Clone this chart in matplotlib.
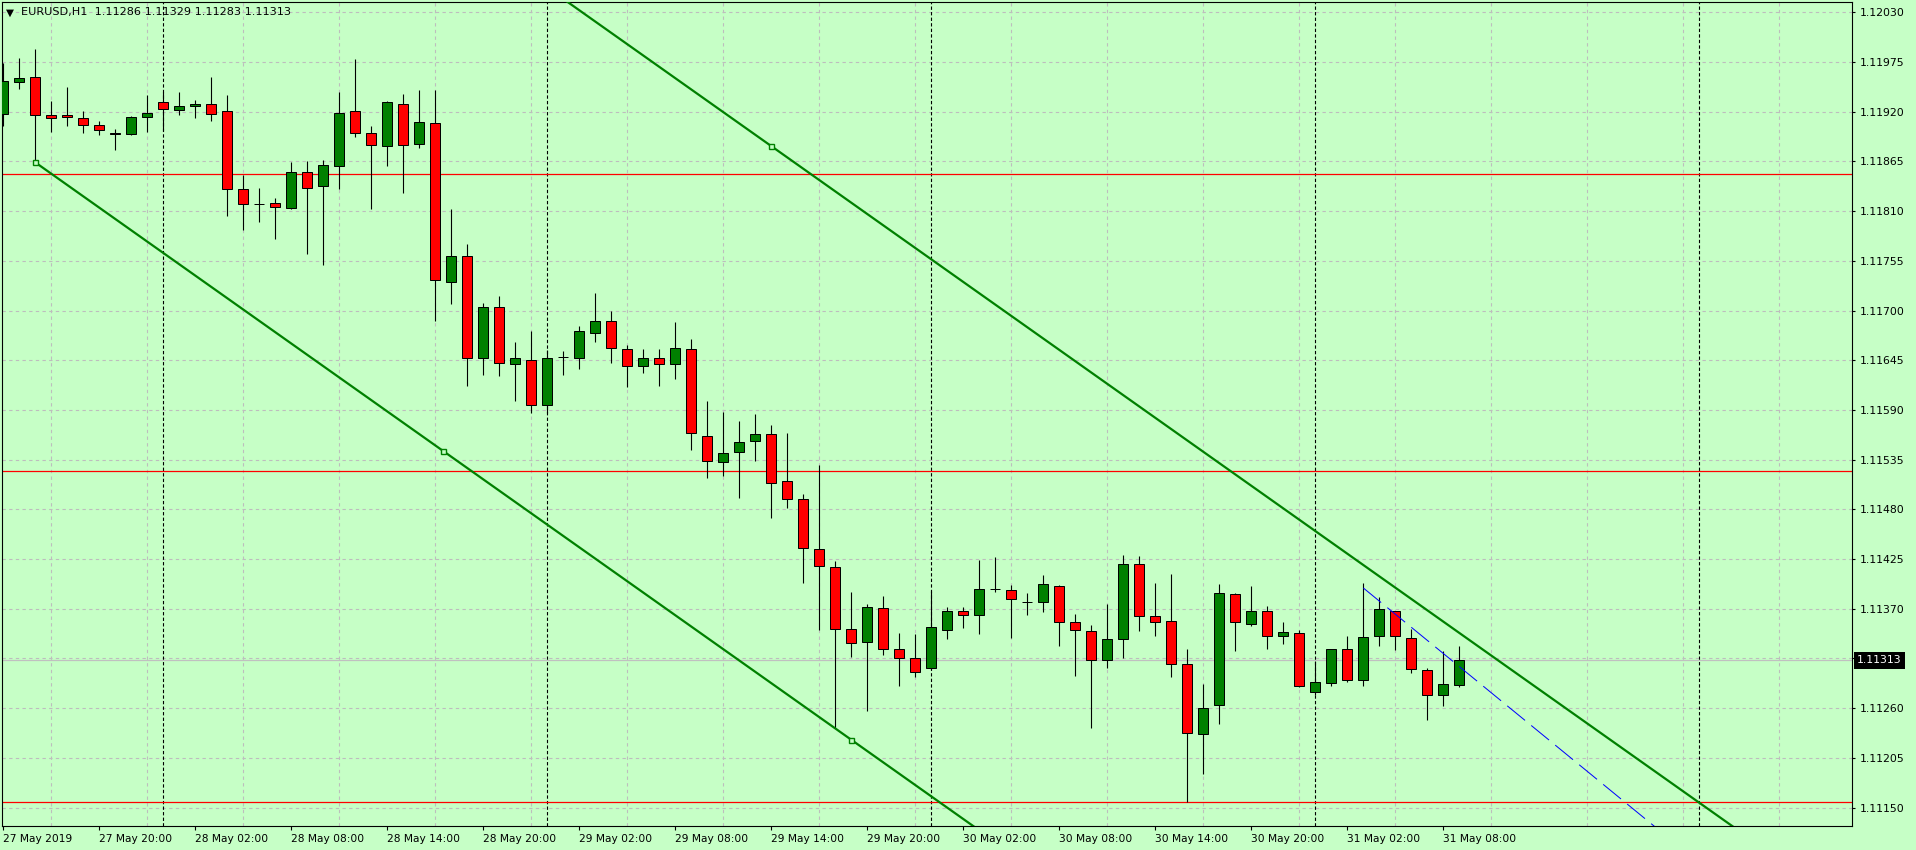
import matplotlib
matplotlib.use("Agg")
import matplotlib.pyplot as plt
import matplotlib.transforms as mtransforms
import pandas as pd

# --- data --------------------------------------------------------------------
symbol = "EURUSD,H1"
first_bar = "2019-05-27 14:00"

opens = [1.11917, 1.11953, 1.11958, 1.11916, 1.11916, 1.11913, 1.11905, 1.11897, 1.11895, 1.11914,
         1.11931, 1.11922, 1.11926, 1.11929, 1.11921, 1.11834, 1.11818, 1.11819, 1.11814, 1.11853,
         1.11838, 1.11860, 1.11921, 1.11896, 1.11882, 1.11929, 1.11884, 1.11908, 1.11732, 1.11760,
         1.11647, 1.11704, 1.11641, 1.11645, 1.11596, 1.11649, 1.11648, 1.11675, 1.11688, 1.11657,
         1.11639, 1.11648, 1.11641, 1.11658, 1.11561, 1.11532, 1.11543, 1.11556, 1.11563, 1.11511,
         1.11491, 1.11436, 1.11416, 1.11348, 1.11333, 1.11371, 1.11326, 1.11316, 1.11305, 1.11347,
         1.11367, 1.11363, 1.11392, 1.11391, 1.11378, 1.11378, 1.11395, 1.11355, 1.11345, 1.11313,
         1.11336, 1.11419, 1.11362, 1.11356, 1.11309, 1.11231, 1.11264, 1.11386, 1.11353, 1.11367,
         1.11340, 1.11343, 1.11278, 1.11288, 1.11326, 1.11291, 1.11340, 1.11368, 1.11338, 1.11302,
         1.11275, 1.11286]
highs = [1.11974, 1.11979, 1.11990, 1.11932, 1.11947, 1.11921, 1.11910, 1.11901, 1.11915, 1.11939,
         1.11942, 1.11942, 1.11933, 1.11958, 1.11939, 1.11850, 1.11836, 1.11825, 1.11864, 1.11866,
         1.11867, 1.11942, 1.11978, 1.11904, 1.11932, 1.11940, 1.11944, 1.11944, 1.11812, 1.11774,
         1.11708, 1.11716, 1.11665, 1.11677, 1.11656, 1.11655, 1.11683, 1.11720, 1.11699, 1.11662,
         1.11657, 1.11657, 1.11687, 1.11668, 1.11600, 1.11588, 1.11578, 1.11586, 1.11573, 1.11565,
         1.11497, 1.11529, 1.11423, 1.11389, 1.11375, 1.11384, 1.11343, 1.11342, 1.11390, 1.11372,
         1.11372, 1.11424, 1.11427, 1.11396, 1.11387, 1.11407, 1.11396, 1.11364, 1.11352, 1.11375,
         1.11429, 1.11428, 1.11398, 1.11409, 1.11326, 1.11287, 1.11397, 1.11387, 1.11395, 1.11373,
         1.11355, 1.11346, 1.11312, 1.11325, 1.11340, 1.11398, 1.11383, 1.11368, 1.11348, 1.11305,
         1.11323, 1.11329]
lows = [1.11904, 1.11945, 1.11864, 1.11898, 1.11904, 1.11897, 1.11894, 1.11878, 1.11894, 1.11898,
        1.11899, 1.11916, 1.11913, 1.11910, 1.11805, 1.11789, 1.11798, 1.11779, 1.11812, 1.11763,
        1.11750, 1.11835, 1.11892, 1.11812, 1.11860, 1.11830, 1.11880, 1.11688, 1.11707, 1.11616,
        1.11629, 1.11628, 1.11600, 1.11587, 1.11587, 1.11629, 1.11635, 1.11665, 1.11642, 1.11615,
        1.11631, 1.11616, 1.11624, 1.11546, 1.11515, 1.11517, 1.11493, 1.11534, 1.11471, 1.11482,
        1.11399, 1.11347, 1.11238, 1.11317, 1.11257, 1.11319, 1.11285, 1.11295, 1.11303, 1.11336,
        1.11349, 1.11342, 1.11389, 1.11338, 1.11363, 1.11366, 1.11329, 1.11296, 1.11238, 1.11305,
        1.11316, 1.11345, 1.11340, 1.11294, 1.11156, 1.11187, 1.11243, 1.11323, 1.11351, 1.11326,
        1.11331, 1.11283, 1.11275, 1.11284, 1.11289, 1.11285, 1.11329, 1.11324, 1.11299, 1.11247,
        1.11262, 1.11283]
closes = [1.11954, 1.11957, 1.11916, 1.11913, 1.11914, 1.11905, 1.11900, 1.11895, 1.11914, 1.11919,
          1.11923, 1.11926, 1.11929, 1.11918, 1.11835, 1.11818, 1.11818, 1.11815, 1.11853, 1.11836,
          1.11861, 1.11919, 1.11897, 1.11883, 1.11931, 1.11883, 1.11909, 1.11734, 1.11760, 1.11647,
          1.11704, 1.11642, 1.11648, 1.11596, 1.11647, 1.11649, 1.11677, 1.11688, 1.11659, 1.11639,
          1.11647, 1.11641, 1.11659, 1.11564, 1.11533, 1.11542, 1.11555, 1.11563, 1.11509, 1.11492,
          1.11437, 1.11417, 1.11348, 1.11332, 1.11372, 1.11326, 1.11316, 1.11300, 1.11350, 1.11367,
          1.11363, 1.11392, 1.11392, 1.11381, 1.11378, 1.11397, 1.11355, 1.11346, 1.11313, 1.11336,
          1.11419, 1.11362, 1.11355, 1.11309, 1.11232, 1.11260, 1.11387, 1.11355, 1.11367, 1.11340,
          1.11344, 1.11284, 1.11289, 1.11325, 1.11291, 1.11339, 1.11370, 1.11340, 1.11303, 1.11275,
          1.11287, 1.11313]

price_ticks = [1.12030, 1.11975, 1.11920, 1.11865, 1.11810, 1.11755, 1.11700, 1.11645, 1.11590,
               1.11535, 1.11480, 1.11425, 1.11370, 1.11315, 1.11260, 1.11205, 1.11150]
price_labels = ["1.12030", "1.11975", "1.11920", "1.11865", "1.11810", "1.11755", "1.11700",
                "1.11645", "1.11590", "1.11535", "1.11480", "1.11425", "1.11370", "",
                "1.11260", "1.11205", "1.11150"]

red_levels = [1.11851, 1.11523, 1.11156]

# channel: lower line anchors (bar, price), upper line one anchor
lower_bars = [2, 53]
lower_prices = [1.11864, 1.11225]
upper_bar = 48
upper_price = 1.11882
# thin blue dashed ray
blue_bars = [85, 97]
blue_prices = [1.11393, 1.11219]

BG = "#C6FFC6"
BULL = "#008000"
BEAR = "#FF0000"


def ray(x0, y0, slope, x_end):
    """
    :return: deux points d'une demi-droite partant de (x0, y0)
    """
    return [x0, x_end], [y0, y0 + slope * (x_end - x0)]


n = len(closes)
idx = list(range(n))
times = pd.date_range(first_bar, periods=n + 24, freq="h")

fig = plt.figure(figsize=(19.16, 8.5), dpi=100, facecolor=BG)
ax = fig.add_axes([2 / 1916, 24 / 850, 1850 / 1916, 824 / 850], facecolor=BG)
ax.set_xlim(-0.081, 115.54)
ax.set_ylim(1.111296, 1.120415)

# grid
ax.set_yticks(price_ticks, price_labels)
ax.grid(axis="y", which="major", color="#BDBDBD", linestyle=(0, (3, 3)), linewidth=0.8, zorder=0)
ax.set_xticks(list(range(3, 116, 6)), minor=True)
ax.grid(axis="x", which="minor", color="#BDBDBD", linestyle=(0, (3, 3)), linewidth=0.8, zorder=0)
ax.set_axisbelow(True)

# day separators
for i, t in enumerate(times):
    if t.hour == 0:
        ax.axvline(i, color="black", linewidth=0.8, linestyle=(0, (3, 2)), zorder=1)

# horizontal levels
for lvl in red_levels:
    ax.axhline(lvl, color=BEAR, linewidth=0.9, zorder=2)
ax.axhline(closes[-1], color="#C0C0C0", linewidth=0.9, zorder=1.5)

# candles
ax.vlines(idx, lows, highs, color="black", linewidth=0.8, zorder=3)
colors = [BULL if c > o else BEAR if c < o else "black" for o, c in zip(opens, closes)]
bottoms = [min(o, c) for o, c in zip(opens, closes)]
heights = [abs(c - o) for o, c in zip(opens, closes)]
ax.bar(idx, heights, bottom=bottoms, width=0.64, color=colors, edgecolor="black",
       linewidth=0.72, zorder=4)

# channel
slope = (lower_prices[1] - lower_prices[0]) / (lower_bars[1] - lower_bars[0])
lx, ly = ray(lower_bars[0], lower_prices[0], slope, 140)
ax.plot(lx, ly, color=BULL, linewidth=1.6, zorder=5)
ux, uy = ray(lower_bars[0], upper_price + slope * (lower_bars[0] - upper_bar), slope, 140)
ax.plot(ux, uy, color=BULL, linewidth=1.6, zorder=5)
mid = (lower_bars[0] + lower_bars[1]) / 2
mx = [lower_bars[0], mid, lower_bars[1], upper_bar]
my = [lower_prices[0], lower_prices[0] + slope * (mid - lower_bars[0]), lower_prices[1], upper_price]
ax.plot(mx, my, linestyle="none", marker="s", markersize=3.6, markerfacecolor=BG,
        markeredgecolor=BULL, markeredgewidth=1.0, zorder=6)

# blue dashed ray
bslope = (blue_prices[1] - blue_prices[0]) / (blue_bars[1] - blue_bars[0])
bx, by = ray(blue_bars[0], blue_prices[0], bslope, 140)
ax.plot(bx, by, color="#0000FF", linewidth=0.72, linestyle=(0, (23, 8)), zorder=5)

# axes look
for sp in ax.spines.values():
    sp.set_color("black")
    sp.set_linewidth(0.8)
ax.yaxis.tick_right()
ax.tick_params(axis="y", which="major", direction="out", length=2.5, width=0.8, pad=3,
               labelsize=7.8, colors="black")
ax.tick_params(axis="x", which="minor", length=0)

xt = list(range(0, n, 6))
xl = ["27 May 2019" if i == 0 else times[i].strftime("%d %b %H:%M") for i in xt]
ax.set_xticks(xt, xl)
ax.tick_params(axis="x", which="major", direction="out", length=3, width=0.8, pad=2.5,
               labelsize=7.7, colors="black")
for lab in ax.get_xticklabels():
    lab.set_horizontalalignment("left")

# current price box
trans = mtransforms.blended_transform_factory(ax.transAxes, ax.transData)
ax.annotate("{:.5f}".format(closes[-1]), xy=(1.0, closes[-1]), xycoords=trans,
            xytext=(3.8, 0), textcoords="offset points", ha="left", va="center",
            color="white", fontsize=7.8, annotation_clip=False,
            bbox=dict(boxstyle="square,pad=0.3", facecolor="black", edgecolor="none"))

# title
fig.text(5.5 / 1916, 1 - 12.5 / 850, "\u25bc", fontsize=7.5, va="center", color="black")
fig.text(21 / 1916, 1 - 12.5 / 850,
         "{}  {:.5f} {:.5f} {:.5f} {:.5f}".format(symbol, opens[-1], highs[-1], lows[-1], closes[-1]),
         fontsize=8.1, va="center", color="black")

fig.savefig("out.png", dpi=100, facecolor=BG)
